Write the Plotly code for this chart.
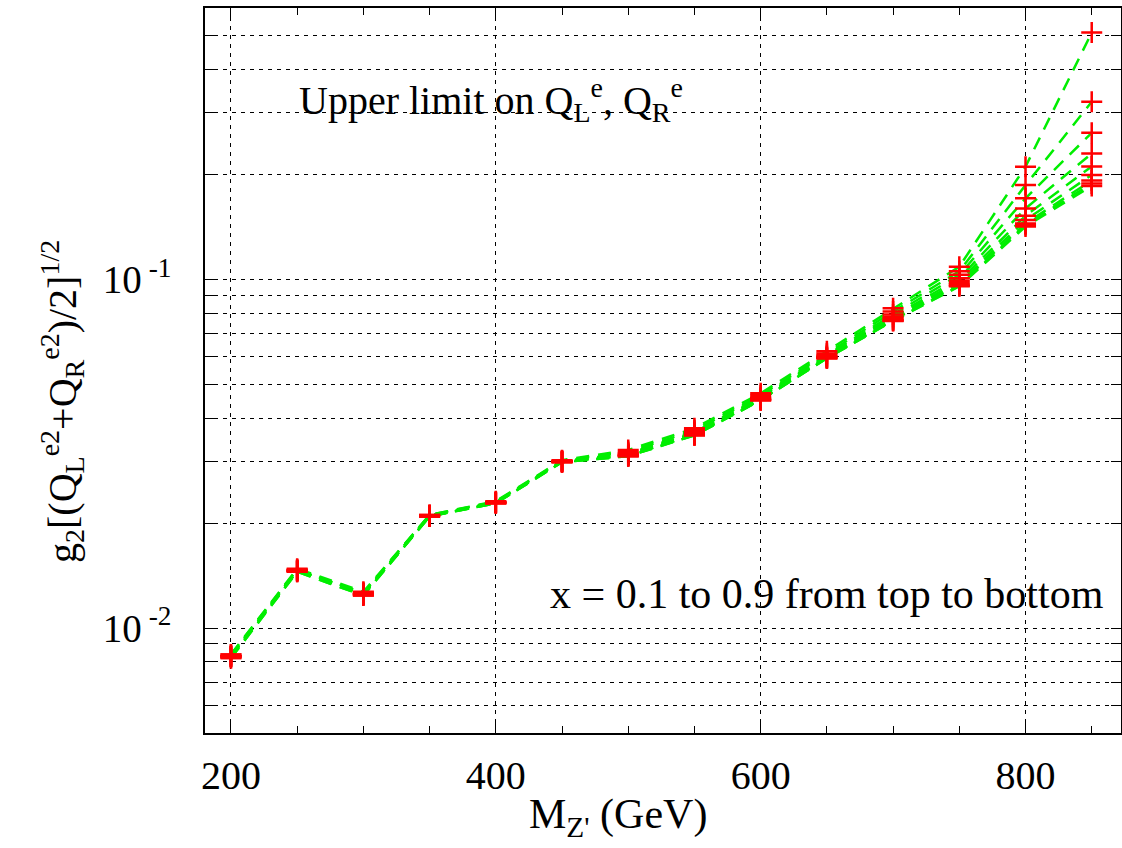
import plotly.graph_objects as go

# Z' mass points (GeV)
mass = [200, 250, 300, 350, 400, 450, 500, 550, 600, 650, 700, 750, 800, 850]

# Upper limit on g2[(QL^e2+QR^e2)/2]^(1/2) for x = 0.1 ... 0.9
x_labels = ["0.1", "0.2", "0.3", "0.4", "0.5", "0.6", "0.7", "0.8", "0.9"]
lim_x01 = [0.0084, 0.0148, 0.0127, 0.0211, 0.0231, 0.0303, 0.0324, 0.0374, 0.0471, 0.0622, 0.0826, 0.1087, 0.2104, 0.510]
lim_x02 = [0.0084, 0.0147, 0.0126, 0.0211, 0.0230, 0.0302, 0.0320, 0.0369, 0.0465, 0.0613, 0.0808, 0.1055, 0.1863, 0.3229]
lim_x03 = [0.0083, 0.0147, 0.0126, 0.0210, 0.0230, 0.0301, 0.0317, 0.0365, 0.0460, 0.0607, 0.0793, 0.1030, 0.1707, 0.2632]
lim_x04 = [0.0083, 0.0146, 0.0125, 0.0210, 0.0229, 0.0301, 0.0315, 0.0362, 0.0456, 0.0602, 0.0781, 0.1007, 0.1597, 0.2296]
lim_x05 = [0.0083, 0.0146, 0.0125, 0.0210, 0.0229, 0.0300, 0.0314, 0.0360, 0.0454, 0.0599, 0.0773, 0.0990, 0.1521, 0.2108]
lim_x06 = [0.0083, 0.0146, 0.0125, 0.0210, 0.0229, 0.0300, 0.0313, 0.0359, 0.0452, 0.0597, 0.0767, 0.0975, 0.1479, 0.1993]
lim_x07 = [0.0083, 0.0146, 0.0125, 0.0209, 0.0228, 0.0300, 0.0312, 0.0358, 0.0451, 0.0595, 0.0763, 0.0965, 0.1447, 0.1921]
lim_x08 = [0.0082, 0.0145, 0.0124, 0.0209, 0.0228, 0.0299, 0.0311, 0.0357, 0.0450, 0.0594, 0.0761, 0.0958, 0.1431, 0.1884]
lim_x09 = [0.0082, 0.0145, 0.0124, 0.0209, 0.0228, 0.0299, 0.0311, 0.0357, 0.0450, 0.0594, 0.0760, 0.0955, 0.1418, 0.1853]
series = [lim_x01, lim_x02, lim_x03, lim_x04, lim_x05, lim_x06, lim_x07, lim_x08, lim_x09]

# y-axis labelled decades and unlabelled minor gridline values
y_major_vals = [0.01, 0.1]
y_major_text = ["10<sup> -2</sup>", "10<sup> -1</sup>"]
y_minor_vals = [0.005, 0.006, 0.007, 0.008, 0.009, 0.02, 0.03, 0.04, 0.05,
                0.06, 0.07, 0.08, 0.09, 0.2, 0.3, 0.4, 0.5, 0.6]

FONT = "Times New Roman, Liberation Serif, DejaVu Serif, serif"
GREEN = "#00ee00"
RED = "#ff0000"

fig = go.Figure()
for xl, vals in zip(x_labels, series):
    fig.add_trace(go.Scatter(
        x=mass, y=vals, mode="lines", name="x = " + xl,
        line=dict(color=GREEN, width=2.5, dash="13px,9px"),
        hoverinfo="skip"))
for xl, vals in zip(x_labels, series):
    fig.add_trace(go.Scatter(
        x=mass, y=vals, mode="markers", name="x = " + xl,
        marker=dict(symbol="cross-thin", size=15, color=RED,
                    line=dict(color=RED, width=2.5))))

W, H = 1122, 848
L, R, T, B = 205, 1, 8, 115
pw, ph = W - L - R, H - T - B

def px_x(p):
    return (p - L) / pw

def px_y(p):
    return 1 - (p - T) / ph

GRID = dict(showgrid=True, gridcolor="black", gridwidth=1, griddash="4px,5px")

fig.update_layout(
    width=W, height=H,
    margin=dict(l=L, r=R, t=T, b=B, autoexpand=False),
    plot_bgcolor="white", paper_bgcolor="white",
    showlegend=False,
    font=dict(family=FONT, size=38, color="black"),
    xaxis=dict(
        range=[180.4, 872.1],
        tick0=200, dtick=200,
        ticks="inside", ticklen=10, tickwidth=1, tickcolor="black",
        showline=True, linecolor="black", linewidth=1.5, mirror="ticks",
        zeroline=False, automargin=False,
        tickfont=dict(family=FONT, size=40),
        ticklabelstandoff=6,
        minor=dict(dtick=50, tick0=200, ticks="inside", ticklen=7,
                   tickcolor="black", showgrid=False),
        **GRID,
    ),
    yaxis=dict(
        type="log",
        range=[-2.30103, -0.221849],
        tickmode="array", tickvals=y_major_vals, ticktext=y_major_text,
        ticks="inside", ticklen=10, tickwidth=1, tickcolor="black",
        showline=True, linecolor="black", linewidth=1.5, mirror="ticks",
        zeroline=False, automargin=False,
        tickfont=dict(family=FONT, size=39),
        ticklabelstandoff=24,
        minor=dict(tickmode="array", tickvals=y_minor_vals, ticks="inside",
                   ticklen=10, tickwidth=1, tickcolor="black", **GRID),
        **GRID,
    ),
)

annotations = [
    dict(text="M<sub>Z'</sub> (GeV)", x=px_x(618), y=px_y(817),
         xanchor="center", yanchor="middle", font=dict(family=FONT, size=42)),
    dict(text="g<sub>2</sub>[(Q<sub>L</sub><sup>e2</sup>+Q<sub>R</sub><sup>e2</sup>)/2]<sup>1/2</sup>",
         x=px_x(62), y=px_y(402), textangle=-90,
         xanchor="center", yanchor="middle", font=dict(family=FONT, size=40)),
    dict(text="Upper limit on Q<sub>L</sub><sup>e</sup>, Q<sub>R</sub><sup>e</sup>",
         x=px_x(297), y=px_y(100), xanchor="left", yanchor="middle",
         font=dict(family=FONT, size=40)),
    dict(text="x = 0.1 to 0.9 from top to bottom",
         x=px_x(1106), y=px_y(594), xanchor="right", yanchor="middle",
         font=dict(family=FONT, size=42)),
]
for a in annotations:
    a.update(xref="paper", yref="paper", showarrow=False)
fig.update_layout(annotations=annotations)

fig.write_html("out.html", config={"displayModeBar": False})

# remove the default page margin so the figure sits at the window origin
with open("out.html", "r", encoding="utf-8") as f:
    html = f.read()
html = html.replace("<head>", "<head><style>html,body{margin:0;padding:0;overflow:hidden;}</style>", 1)
with open("out.html", "w", encoding="utf-8") as f:
    f.write(html)
